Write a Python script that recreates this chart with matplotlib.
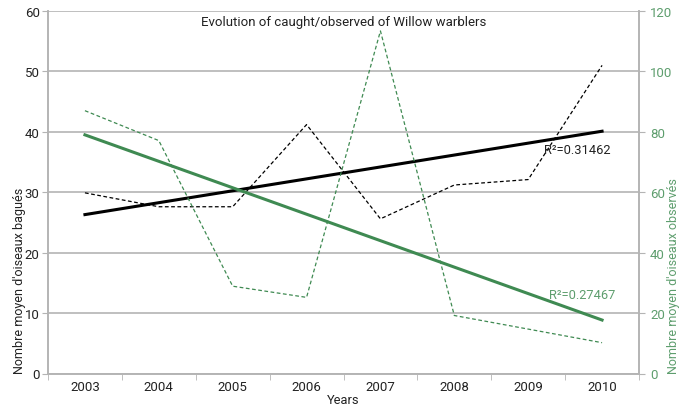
import matplotlib
matplotlib.use("Agg")
import matplotlib.pyplot as plt
import numpy as np

years = ["2003", "2004", "2005", "2006", "2007", "2008", "2009", "2010"]
caught = [29.9, 27.6, 27.6, 41.2, 25.6, 31.2, 32.1, 51.0]
observed = [87.0, 77.1, 28.9, 25.2, 113.4, 19.2, 14.7, 10.2]
caught_trend = [26.3, 40.1]
observed_trend = [79.0, 17.7]
r2_caught = "R²=0.31462"
r2_observed = "R²=0.27467"

plt.rcParams['font.family'] = ['Roboto', 'DejaVu Sans']

GREEN = "#3f8a52"
GREEN_TXT = "#5e9e6e"
GRID = "#b4b4b4"
TXT = "#222222"

fig = plt.figure(figsize=(6.88, 4.10), dpi=100)
ax = fig.add_axes([48/688, 1 - 374.5/410, (639-48)/688, (374.5-12)/410])
ax2 = ax.twinx()

x = np.arange(len(years))
ax.set_xlim(-0.5, len(years) - 0.5)
ax.set_ylim(0, 60)
ax2.set_ylim(0, 120)

ax.set_yticks(np.arange(0, 61, 10))
ax2.set_yticks(np.arange(0, 121, 20))
ax.yaxis.grid(True, color=GRID, linewidth=1.2)
ax.set_axisbelow(True)

ax.plot(x, caught, color="black", linewidth=0.9, linestyle=(0, (3, 2)), zorder=3)
ax.plot([x[0], x[-1]], caught_trend, color="black", linewidth=2.2, zorder=4)
ax2.plot(x, observed, color=GREEN, linewidth=0.9, linestyle=(0, (3, 2)), zorder=3)
ax2.plot([x[0], x[-1]], observed_trend, color=GREEN, linewidth=2.2, zorder=4)

ax.text(6.66, 37.0, r2_caught, color=TXT, fontsize=9.3, ha="center", va="center")
ax2.text(6.73, 26.3, r2_observed, color=GREEN_TXT, fontsize=9.3, ha="center", va="center")

ax.text(0.5, 0.988, "Evolution of caught/observed of Willow warblers", transform=ax.transAxes,
        ha="center", va="top", fontsize=9.5, color=TXT)

ax.set_xticks(x)
ax.set_xticklabels(years)
ax.set_xticks(np.arange(-0.5, len(years), 1), minor=True)
ax.tick_params(axis="x", which="major", length=0, pad=5, labelsize=9.5, labelcolor=TXT)
ax.tick_params(axis="x", which="minor", length=4, color=GRID, direction="out")
ax.tick_params(axis="y", length=4, color=GRID, labelsize=9.5, labelcolor=TXT, pad=2)
ax2.tick_params(axis="y", length=4, color=GRID, labelsize=9.5, labelcolor=GREEN_TXT, pad=4)

for a in (ax, ax2):
    a.spines["top"].set_visible(False)
    for s in ("left", "right", "bottom"):
        a.spines[s].set_color(GRID)
        a.spines[s].set_linewidth(1.2)

ax.set_xlabel("Years", fontsize=9.3, color=TXT, labelpad=0)
ax.set_ylabel("Nombre moyen d'oiseaux bagués", fontsize=9, color=TXT, labelpad=-1, loc="bottom")
ax2.set_ylabel("Nombre moyen d'oiseaux observés", fontsize=9, color=GREEN_TXT, labelpad=-4, loc="bottom")

fig.savefig("out.png", dpi=100)
